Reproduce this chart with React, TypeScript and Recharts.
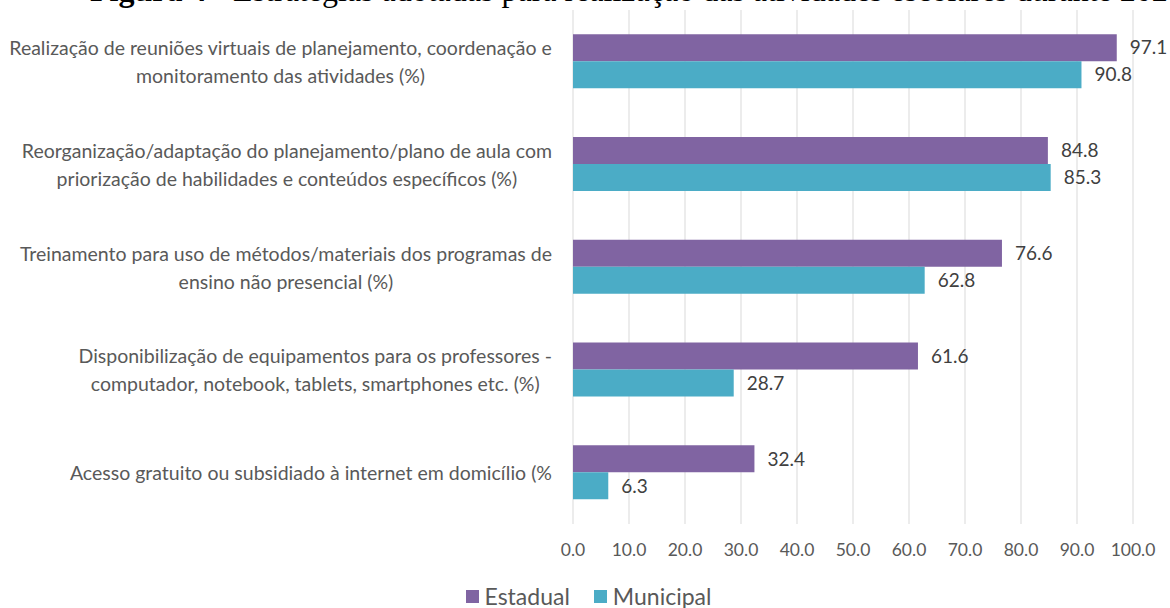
import React from "react";
import { BarChart, Bar, XAxis, YAxis, CartesianGrid, Legend, LabelList } from "recharts";

const categories = [
  "Realização de reuniões virtuais de planejamento, coordenação e\nmonitoramento das atividades (%)",
  "Reorganização/adaptação do planejamento/plano de aula com\npriorização de habilidades e conteúdos específicos (%)",
  "Treinamento para uso de métodos/materiais dos programas de\nensino não presencial (%)",
  "Disponibilização de equipamentos para os professores -\ncomputador, notebook, tablets, smartphones etc. (%)",
  "Acesso gratuito ou subsidiado à internet em domicílio (%",
];
const estadual = [97.1, 84.8, 76.6, 61.6, 32.4];
const municipal = [90.8, 85.3, 62.8, 28.7, 6.3];
const xTicks = [0, 10, 20, 30, 40, 50, 60, 70, 80, 90, 100];

const data = categories.map((name, i) => ({
  name,
  Estadual: estadual[i],
  Municipal: municipal[i],
}));

const FONT = "Lato, 'Noto Sans', sans-serif";
const LABEL_SIZE = 19.5;

let ctx: CanvasRenderingContext2D | null = null;
const textWidth = (s: string) => {
  if (!ctx) ctx = document.createElement("canvas").getContext("2d");
  if (!ctx) return s.length * 9;
  ctx.font = `${LABEL_SIZE}px ${FONT}`;
  return ctx.measureText(s).width;
};

// category labels: lines centred on each other, widest line ending at the axis gap
const CategoryTick = (props: any) => {
  const { x, y, payload } = props;
  const lines = String(payload.value).split("\n");
  const maxW = Math.max(...lines.map(textWidth));
  const cx = x - maxW / 2;
  const lh = 28;
  const y0 = y - ((lines.length - 1) * lh) / 2;
  return (
    <g>
      {lines.map((ln, i) => (
        <text
          key={i}
          x={cx}
          y={y0 + i * lh}
          textAnchor="middle"
          dominantBaseline="central"
          fill="#595959"
          fontSize={LABEL_SIZE}
          fontFamily={FONT}
        >
          {ln}
        </text>
      ))}
    </g>
  );
};

const LegendContent = (props: any) => {
  const { payload } = props;
  return (
    <div
      style={{
        height: 44,
        paddingTop: 21,
        boxSizing: "border-box",
        display: "flex",
        justifyContent: "center",
        gap: 24,
        fontFamily: FONT,
        fontSize: 23,
        color: "#595959",
        marginLeft: 44,
      }}
    >
      {payload.map((p: any) => (
        <div key={p.value} style={{ display: "flex", alignItems: "center", height: 22 }}>
          <span style={{ width: 13, height: 13, background: p.color, display: "inline-block", marginRight: 6 }} />
          <span>{p.value}</span>
        </div>
      ))}
    </div>
  );
};

export default function App() {
  return (
    <div style={{ position: "relative", width: 1170, height: 608, overflow: "hidden", background: "#fff" }}>
      <style>{`body{margin:0}`}</style>
      <div
        style={{
          position: "absolute",
          left: 90,
          top: -26,
          whiteSpace: "nowrap",
          fontFamily: "'Liberation Serif', serif",
          fontSize: 32,
          lineHeight: "32px",
          color: "#000",
        }}
      >
        <b>Figura 4</b> - Estratégias adotadas para realização das atividades escolares durante 2020
      </div>
      <BarChart
        width={1170}
        height={608}
        data={data}
        layout="vertical"
        margin={{ top: 10, right: 37, left: 0, bottom: 0 }}
        barCategoryGap="23.5%"
        barGap={0}
      >
        <CartesianGrid horizontal={false} stroke="#d9d9d9" />
        <XAxis
          type="number"
          domain={[0, 100]}
          ticks={xTicks}
          tickFormatter={(v: number) => v.toFixed(1)}
          axisLine={false}
          tickLine={false}
          tickMargin={14}
          height={40}
          tick={{ fill: "#595959", fontSize: 17.5, fontFamily: FONT }}
          interval={0}
        />
        <YAxis
          type="category"
          dataKey="name"
          width={573}
          axisLine={false}
          tickLine={false}
          tickSize={0}
          tickMargin={21}
          tick={<CategoryTick />}
          interval={0}
        />
        <Legend verticalAlign="bottom" content={<LegendContent />} wrapperStyle={{ height: 44 }} />
        <Bar dataKey="Estadual" fill="#8064A2" isAnimationActive={false}>
          <LabelList dataKey="Estadual" position="right" offset={13} fill="#404040" fontSize={19} fontFamily={FONT} formatter={(v: any) => Number(v).toFixed(1)} />
        </Bar>
        <Bar dataKey="Municipal" fill="#4BACC6" isAnimationActive={false}>
          <LabelList dataKey="Municipal" position="right" offset={13} fill="#404040" fontSize={19} fontFamily={FONT} formatter={(v: any) => Number(v).toFixed(1)} />
        </Bar>
      </BarChart>
    </div>
  );
}
